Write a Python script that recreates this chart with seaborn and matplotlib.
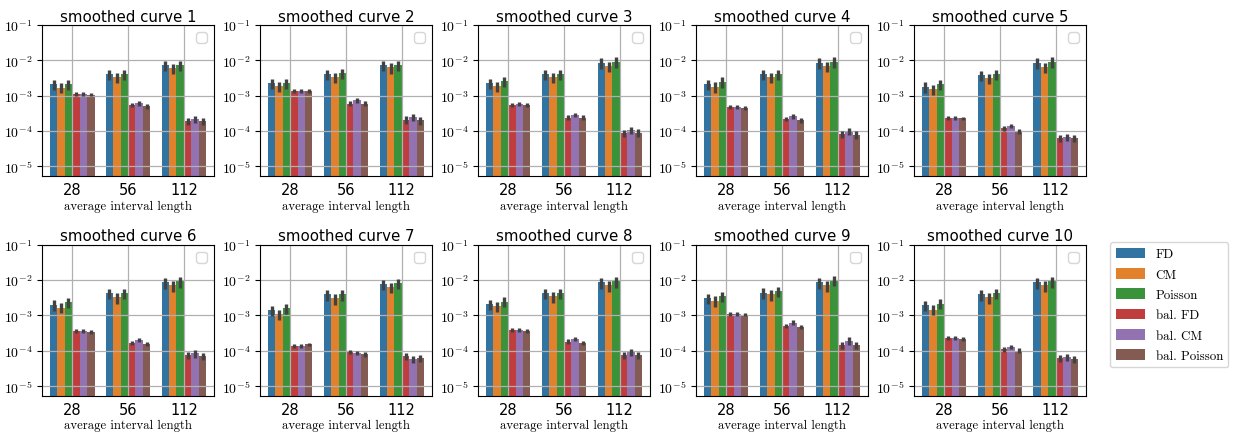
import numpy as np
import pandas as pd
import seaborn as sns
import matplotlib.pyplot as plt
import matplotlib.ticker as ticker
from matplotlib.patches import Patch
from matplotlib.container import BarContainer

lengths = ['28', '56', '112']
methods = ['FD', 'CM', 'Poisson', 'bal. FD', 'bal. CM', 'bal. Poisson']
titles = [f'smoothed curve {i}' for i in range(1, 11)]

# mean error per panel, values for lengths 28 / 56 / 112
fd = [[2.1e-3, 4.1e-3, 7.4e-3], [2.3e-3, 4.1e-3, 7.4e-3], [2.3e-3, 4.1e-3, 8.5e-3],
      [2.1e-3, 4.1e-3, 8.5e-3], [1.8e-3, 3.8e-3, 8.5e-3], [2.0e-3, 4.2e-3, 8.5e-3],
      [1.4e-3, 3.9e-3, 7.5e-3], [2.1e-3, 4.2e-3, 8.5e-3], [3.0e-3, 4.4e-3, 8.5e-3],
      [1.9e-3, 3.9e-3, 8.5e-3]]
cm = [[1.7e-3, 3.4e-3, 6.0e-3], [1.9e-3, 3.4e-3, 6.3e-3], [1.9e-3, 3.4e-3, 6.9e-3],
      [1.8e-3, 3.4e-3, 6.9e-3], [1.55e-3, 3.1e-3, 6.5e-3], [1.65e-3, 3.2e-3, 7.0e-3],
      [1.07e-3, 3.0e-3, 6.2e-3], [1.8e-3, 3.4e-3, 7.0e-3], [2.6e-3, 3.9e-3, 7.0e-3],
      [1.45e-3, 3.2e-3, 7.0e-3]]
poisson = [[2.1e-3, 4.1e-3, 7.4e-3], [2.3e-3, 4.4e-3, 7.4e-3], [2.6e-3, 4.1e-3, 9.1e-3],
           [2.5e-3, 4.1e-3, 9.1e-3], [2.1e-3, 4.1e-3, 9.1e-3], [2.3e-3, 4.2e-3, 9.1e-3],
           [1.6e-3, 3.9e-3, 8.0e-3], [2.45e-3, 4.2e-3, 9.1e-3], [3.4e-3, 4.8e-3, 9.8e-3],
           [2.15e-3, 4.2e-3, 9.1e-3]]
bal_fd = [[1.1e-3, 5.5e-4, 1.9e-4], [1.35e-3, 6.0e-4, 2.1e-4], [5.5e-4, 2.4e-4, 8.8e-5],
          [4.9e-4, 2.2e-4, 8.2e-5], [2.4e-4, 1.2e-4, 6.3e-5], [3.6e-4, 1.65e-4, 7.4e-5],
          [1.35e-4, 9.2e-5, 7.0e-5], [3.9e-4, 1.8e-4, 7.5e-5], [1.1e-3, 5.0e-4, 1.45e-4],
          [2.3e-4, 1.1e-4, 6.2e-5]]
bal_cm = [[1.1e-3, 6.2e-4, 2.2e-4], [1.35e-3, 7.5e-4, 2.5e-4], [5.8e-4, 2.9e-4, 1.07e-4],
          [4.9e-4, 2.6e-4, 1.0e-4], [2.4e-4, 1.4e-4, 6.8e-5], [3.6e-4, 2.0e-4, 8.4e-5],
          [1.35e-4, 8.6e-5, 5.8e-5], [3.9e-4, 2.15e-4, 9.2e-5], [1.1e-3, 6.2e-4, 1.9e-4],
          [2.3e-4, 1.27e-4, 6.6e-5]]
bal_poisson = [[1.08e-3, 5.1e-4, 1.9e-4], [1.35e-3, 6.0e-4, 2.0e-4], [5.5e-4, 2.4e-4, 9.0e-5],
               [4.6e-4, 2.0e-4, 7.9e-5], [2.3e-4, 1.0e-4, 6.3e-5], [3.4e-4, 1.55e-4, 7.0e-5],
               [1.5e-4, 8.0e-5, 6.2e-5], [3.6e-4, 1.65e-4, 7.5e-5], [1.05e-3, 4.75e-4, 1.45e-4],
               [2.15e-4, 1.0e-4, 5.8e-5]]

# relative half-width of the error bars, per length
rel_err_plain = [0.32, 0.33, 0.33]
rel_err_bal = [0.12, 0.15, 0.24]

series = [fd, cm, poisson, bal_fd, bal_cm, bal_poisson]
rows = []
for p in range(10):
    for m, vals in zip(methods, series):
        errs = rel_err_bal if m.startswith('bal') else rel_err_plain
        for k, L in enumerate(lengths):
            rows.append({'panel': p, 'method': m, 'length': L,
                         'value': vals[p][k], 'err': vals[p][k] * errs[k]})
df = pd.DataFrame(rows)

serif = ['cmr10', 'DejaVu Serif']
plt.rcParams['mathtext.fontset'] = 'cm'
plt.rcParams['axes.unicode_minus'] = False

fig, axes = plt.subplots(2, 5, figsize=(12.33, 4.35), dpi=100)
fig.subplots_adjust(left=42 / 1233, right=1086 / 1233, top=1 - 26 / 435,
                    bottom=1 - 397 / 435, wspace=0.267, hspace=0.45)

for p, ax in enumerate(axes.flat):
    sub = df[df['panel'] == p]
    sns.barplot(data=sub, x='length', y='value', hue='method', order=lengths,
                hue_order=methods, errorbar=None, legend=False, linewidth=0, ax=ax)
    ax.set_yscale('log')
    bars = [c for c in ax.containers if isinstance(c, BarContainer)]
    # error bars on top of the bars
    for m, cont in zip(methods, bars):
        s = sub[sub['method'] == m].set_index('length').loc[lengths]
        xs = [b.get_x() + b.get_width() / 2 for b in cont]
        ax.errorbar(xs, s['value'], yerr=s['err'], fmt='none',
                    ecolor='.26', elinewidth=2.4, capsize=0, zorder=3)
    ax.set_ylim(5.2e-6, 0.1)
    ax.yaxis.set_major_locator(ticker.LogLocator(base=10, numticks=10))
    ax.yaxis.set_minor_locator(ticker.NullLocator())
    ax.yaxis.set_major_formatter(
        ticker.FuncFormatter(lambda y, _: r'$10^{%d}$' % round(np.log10(y))))
    ax.tick_params(axis='y', labelsize=10)
    ax.tick_params(axis='x', labelsize=10.5, length=0, pad=4)
    ax.grid(True, color='#b0b0b0', linewidth=0.9)
    ax.set_title(titles[p], fontsize=10.8, pad=3)
    ax.set_xlabel('average interval length', fontsize=9.2, family=serif, labelpad=2)
    ax.set_ylabel('')
    ax.legend(handles=[], loc='upper right')

first = [c for c in axes[0, 0].containers if isinstance(c, BarContainer)]
handles = [Patch(facecolor=c[0].get_facecolor()) for c in first]
fig.legend(handles, methods, loc='upper left', bbox_to_anchor=(1104 / 1233, 1 - 237 / 435),
           prop={'family': serif, 'size': 9.3}, handlelength=2.3, handleheight=0.9,
           handletextpad=0.8, labelspacing=0.58, borderpad=0.4)

fig.savefig('out.png', dpi=100)
